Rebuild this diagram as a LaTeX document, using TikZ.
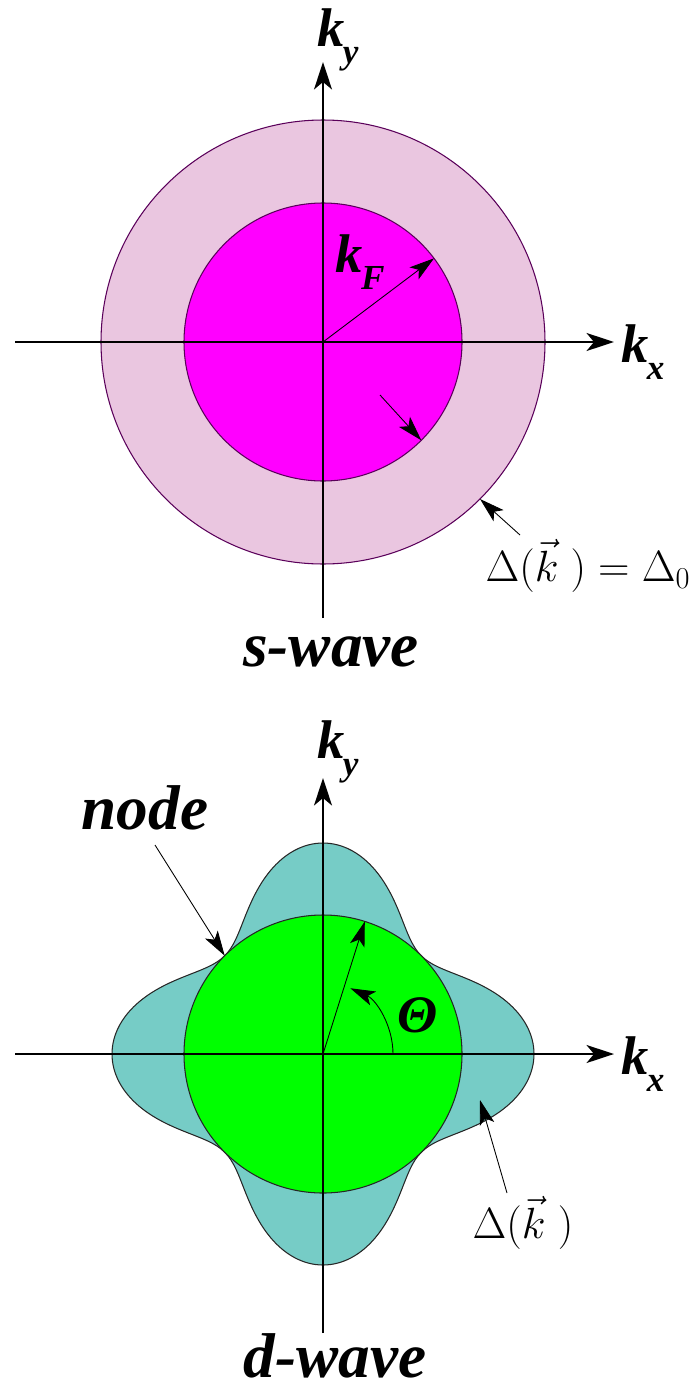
\documentclass[tikz,border=0pt]{standalone}
\usepackage{fontspec}
\setmainfont{Liberation Serif}
\usetikzlibrary{arrows.meta,calc}
\definecolor{shellCol}{RGB}{234,198,224}
\definecolor{fermiCol}{RGB}{255,0,255}
\definecolor{rimCol}{RGB}{90,0,90}
\definecolor{lobeCol}{RGB}{118,204,198}
\definecolor{greenCol}{RGB}{0,255,0}
\newcommand{\wavek}[1]{\textbf{\textit{k}}\kern-1pt\raisebox{-0.3em}{\fontsize{20}{20}\selectfont\textbf{\textit{#1}}}}
\tikzset{
  axis/.style={-{Stealth[length=5.5mm,width=3.6mm,inset=1.5mm]},line width=1.1pt},
  ptr/.style={-{Stealth[length=5mm,width=3mm,inset=1.2mm]},line width=0.5pt},
  klab/.style={font=\fontsize{31}{33}\selectfont,inner sep=0pt},
  wave/.style={font=\fontsize{36}{40}\selectfont\bfseries\itshape,inner sep=0pt},
  gap/.style={font=\fontsize{26}{29}\selectfont,inner sep=0pt},
}

\begin{document}
\begin{tikzpicture}[x=0.02cm,y=0.02cm]
  \useasboundingbox (0,0) rectangle (696,-1389);
  % s-wave
  \coordinate (s0) at (323,-342);
  \filldraw[fill=shellCol,draw=rimCol,line width=0.6pt] (s0) circle (222);
  \filldraw[fill=fermiCol,draw=rimCol,line width=0.6pt] (s0) circle (139);
  \coordinate (sxl) at (15,-342);
  \coordinate (sxr) at (614,-342);
  \coordinate (syb) at (323,-618);
  \coordinate (syt) at (323,-62);
  \draw[axis] (sxl) -- (sxr);
  \draw[axis] (syb) -- (syt);
  \node[klab] (skx) at (643,-352) {\wavek{x}};
  \node[klab] (sky) at (338,-40) {\wavek{y}};
  \coordinate (kf) at ($(s0)+(37:139)$);
  \draw[ptr] (s0) -- (kf);
  \node[klab] (kF) at (360,-262) {\wavek{F}};
  \coordinate (gtail) at (380,-395);
  \coordinate (ghead) at ($(s0)+(-45:139)$);
  \draw[ptr] (gtail) -- (ghead);
  \node[gap] (sgap) at (588,-566) {$\Delta(\vec{k}\;)=\Delta_0$};
  \coordinate (dtail) at (520,-535);
  \coordinate (dhead) at ($(s0)+(-45:222)$);
  \draw[ptr] (dtail) -- (dhead);
  \node[wave] (swave) at (331,-652) {s-wave};
  % d-wave
  \coordinate (d0) at (323,-1054);
  \filldraw[fill=lobeCol,draw=black!85,line width=0.6pt,shift={(d0)}]
    plot[domain=0:360,samples=361] (\x:{139+72*cos(2*\x)^2}) -- cycle;
  \filldraw[fill=greenCol,draw=black!85,line width=0.6pt] (d0) circle (139);
  \coordinate (dxl) at (15,-1054);
  \coordinate (dxr) at (614,-1054);
  \coordinate (dyb) at (323,-1333);
  \coordinate (dyt) at (323,-778);
  \draw[axis] (dxl) -- (dxr);
  \draw[axis] (dyb) -- (dyt);
  \node[klab] (dkx) at (643,-1064) {\wavek{x}};
  \node[klab] (dky) at (338,-752) {\wavek{y}};
  \coordinate (kt) at ($(d0)+(72.5:139)$);
  \draw[ptr] (d0) -- (kt);
  \coordinate (astart) at ($(d0)+(0:70)$);
  \draw[ptr] (astart) arc[start angle=0,end angle=66,radius=72];
  \node[klab,font=\fontsize{30}{32}\selectfont\bfseries\itshape] (theta) at (418,-1015) {Θ};
  \node[wave] (nodelab) at (145,-808) {node};
  \coordinate (ntail) at (155,-845);
  \coordinate (nhead) at ($(d0)+(135:139)$);
  \draw[ptr] (ntail) -- (nhead);
  \node[gap] (dgap) at (523,-1223) {$\Delta(\vec{k}\;)$};
  \coordinate (ltail) at (507,-1193);
  \coordinate (lhead) at (480,-1100);
  \draw[ptr] (ltail) -- (lhead);
  \node[wave] (dwave) at (335,-1356) {d-wave};
\end{tikzpicture}
\end{document}
